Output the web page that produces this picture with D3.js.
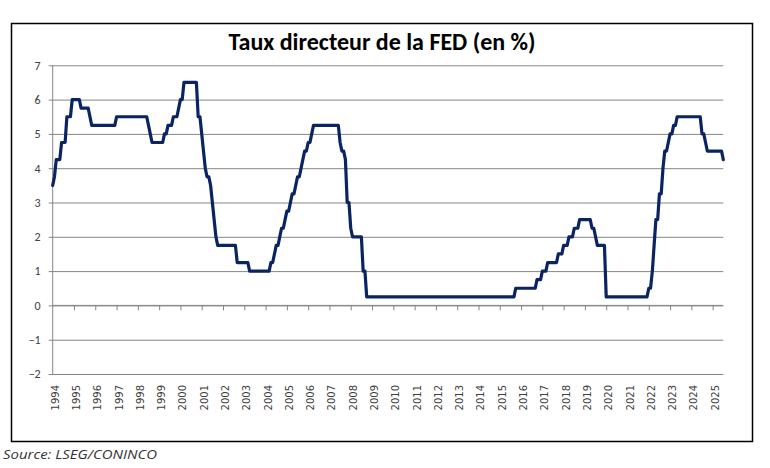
<!DOCTYPE html>
<html><head><meta charset="utf-8">
<script src="https://cdn.jsdelivr.net/npm/d3@7"></script>
<style>
html,body{margin:0;padding:0;background:#fff;}
svg{display:block;}
</style></head>
<body>
<svg id="c" width="770" height="468"></svg>
<script>
const title = "Taux directeur de la FED (en %)";
const source = "Source: LSEG/CONINCO";
const startMonth = "1994-03";
const yearLabels = ["1994","1995","1996","1997","1998","1999","2000","2001","2002","2003","2004","2005","2006","2007","2008","2009","2010","2011","2012","2013","2014","2015","2016","2017","2018","2019","2020","2021","2022","2023","2024","2025"];
const yTicks = [-2,-1,0,1,2,3,4,5,6,7];
// monthly values, Mar 1994 .. Sep 2025
const rates1994 = [3.5,3.75,4.25,4.25,4.25,4.75,4.75,4.75,5.5,5.5];
const rates1995 = [5.5,6,6,6,6,6,5.75,5.75,5.75,5.75,5.75,5.5];
const rates1996 = [5.25,5.25,5.25,5.25,5.25,5.25,5.25,5.25,5.25,5.25,5.25,5.25];
const rates1997 = [5.25,5.25,5.5,5.5,5.5,5.5,5.5,5.5,5.5,5.5,5.5,5.5];
const rates1998 = [5.5,5.5,5.5,5.5,5.5,5.5,5.5,5.5,5.25,5,4.75,4.75];
const rates1999 = [4.75,4.75,4.75,4.75,4.75,5,5,5.25,5.25,5.25,5.5,5.5];
const rates2000 = [5.5,5.75,6,6,6.5,6.5,6.5,6.5,6.5,6.5,6.5,6.5];
const rates2001 = [5.5,5.5,5,4.5,4,3.75,3.75,3.5,3,2.5,2,1.75];
const rates2002 = [1.75,1.75,1.75,1.75,1.75,1.75,1.75,1.75,1.75,1.75,1.25,1.25];
const rates2003 = [1.25,1.25,1.25,1.25,1.25,1,1,1,1,1,1,1];
const rates2004 = [1,1,1,1,1,1.25,1.25,1.5,1.75,1.75,2,2.25];
const rates2005 = [2.25,2.5,2.75,2.75,3,3.25,3.25,3.5,3.75,3.75,4,4.25];
const rates2006 = [4.5,4.5,4.75,4.75,5,5.25,5.25,5.25,5.25,5.25,5.25,5.25];
const rates2007 = [5.25,5.25,5.25,5.25,5.25,5.25,5.25,5.25,4.75,4.5,4.5,4.25];
const rates2008 = [3,3,2.25,2,2,2,2,2,2,1,1,0.25];
const rates2009 = [0.25,0.25,0.25,0.25,0.25,0.25,0.25,0.25,0.25,0.25,0.25,0.25];
const rates2010 = [0.25,0.25,0.25,0.25,0.25,0.25,0.25,0.25,0.25,0.25,0.25,0.25];
const rates2011 = [0.25,0.25,0.25,0.25,0.25,0.25,0.25,0.25,0.25,0.25,0.25,0.25];
const rates2012 = [0.25,0.25,0.25,0.25,0.25,0.25,0.25,0.25,0.25,0.25,0.25,0.25];
const rates2013 = [0.25,0.25,0.25,0.25,0.25,0.25,0.25,0.25,0.25,0.25,0.25,0.25];
const rates2014 = [0.25,0.25,0.25,0.25,0.25,0.25,0.25,0.25,0.25,0.25,0.25,0.25];
const rates2015 = [0.25,0.25,0.25,0.25,0.25,0.25,0.25,0.25,0.25,0.25,0.25,0.5];
const rates2016 = [0.5,0.5,0.5,0.5,0.5,0.5,0.5,0.5,0.5,0.5,0.5,0.75];
const rates2017 = [0.75,0.75,1,1,1,1.25,1.25,1.25,1.25,1.25,1.25,1.5];
const rates2018 = [1.5,1.5,1.75,1.75,1.75,2,2,2,2.25,2.25,2.25,2.5];
const rates2019 = [2.5,2.5,2.5,2.5,2.5,2.5,2.25,2.25,2,1.75,1.75,1.75];
const rates2020 = [1.75,1.75,0.25,0.25,0.25,0.25,0.25,0.25,0.25,0.25,0.25,0.25];
const rates2021 = [0.25,0.25,0.25,0.25,0.25,0.25,0.25,0.25,0.25,0.25,0.25,0.25];
const rates2022 = [0.25,0.25,0.5,0.5,1,1.75,2.5,2.5,3.25,3.25,4,4.5];
const rates2023 = [4.5,4.75,5,5,5.25,5.25,5.5,5.5,5.5,5.5,5.5,5.5];
const rates2024 = [5.5,5.5,5.5,5.5,5.5,5.5,5.5,5.5,5,5,4.75,4.5];
const rates2025 = [4.5,4.5,4.5,4.5,4.5,4.5,4.5,4.5,4.25];

const rates = [].concat(rates1994,rates1995,rates1996,rates1997,rates1998,rates1999,rates2000,rates2001,rates2002,rates2003,rates2004,rates2005,rates2006,rates2007,rates2008,rates2009,rates2010,rates2011,rates2012,rates2013,rates2014,rates2015,rates2016,rates2017,rates2018,rates2019,rates2020,rates2021,rates2022,rates2023,rates2024,rates2025);

const svg = d3.select("#c");
const font = "Carlito, Calibri, 'Liberation Sans Narrow', 'DejaVu Sans Condensed', sans-serif";

// outer frame
svg.append("rect").attr("x",11.5).attr("y",23.5).attr("width",741).attr("height",418)
  .attr("fill","#fff").attr("stroke","#000").attr("stroke-width",1.5);

const pLeft = 52.7, pRight = 723.3, pTop = 65.3, pBottom = 374;
const x = d3.scaleLinear().domain([0, rates.length-1]).range([pLeft, pRight]);
const y = d3.scaleLinear().domain([-2, 7]).range([pBottom, pTop]);

// gridlines + y ticks
const yAxis = d3.axisLeft(y).tickValues(yTicks).tickSize(-(pRight-pLeft)).tickSizeOuter(0).tickPadding(14);
const gy = svg.append("g").attr("transform",`translate(${pLeft},0)`).call(yAxis);
gy.select(".domain").remove();
gy.selectAll(".tick line").attr("stroke","#868686").attr("stroke-width",1).attr("x1",-4);
gy.selectAll(".tick text").attr("fill","#404040").style("font-family",font).style("font-size","12px").attr("x",-12);

// y axis line
svg.append("line").attr("x1",pLeft).attr("x2",pLeft).attr("y1",pTop).attr("y2",pBottom)
  .attr("stroke","#868686").attr("stroke-width",1);

// x axis at 0 with ticks every 12 months
const xTickIdx = yearLabels.map((d,i)=>i*12);
const xAxis = d3.axisBottom(x).tickValues(xTickIdx.slice(1)).tickSize(5).tickSizeOuter(0).tickFormat("");
const gx = svg.append("g").attr("transform",`translate(0,${y(0)})`).call(xAxis);
gx.select(".domain").attr("stroke","#868686").attr("d",`M${pLeft},0H${pRight}`);
gx.selectAll(".tick line").attr("stroke","#868686");

// year labels at bottom, rotated
svg.append("g").selectAll("text").data(yearLabels).join("text")
  .attr("transform",(d,i)=>`translate(${x(i*12)+2.5},${pBottom+11}) rotate(-90)`)
  .attr("text-anchor","end").attr("dominant-baseline","central")
  .attr("fill","#404040").style("font-family","'DejaVu Sans', Verdana, sans-serif").style("font-size","10px")
  .text(d=>d);

// line
const line = d3.line().x((d,i)=>x(i)).y(d=>y(d)).curve(d3.curveLinear);
svg.append("path").datum(rates).attr("d",line).attr("fill","none")
  .attr("stroke","#0a2463").attr("stroke-width",3.2).attr("stroke-linejoin","round").attr("stroke-linecap","round");

// title
svg.append("text").attr("x",382).attr("y",50).attr("text-anchor","middle")
  .style("font-family",font).style("font-weight","bold").style("font-size","24px").attr("fill","#000")
  .text(title);

// source
svg.append("text").attr("x",3).attr("y",459)
  .style("font-family","'Open Sans', sans-serif").style("font-style","italic").style("font-size","13px").attr("fill","#333")
  .attr("textLength",154).attr("lengthAdjust","spacingAndGlyphs")
  .text(source);
</script>
</body></html>
